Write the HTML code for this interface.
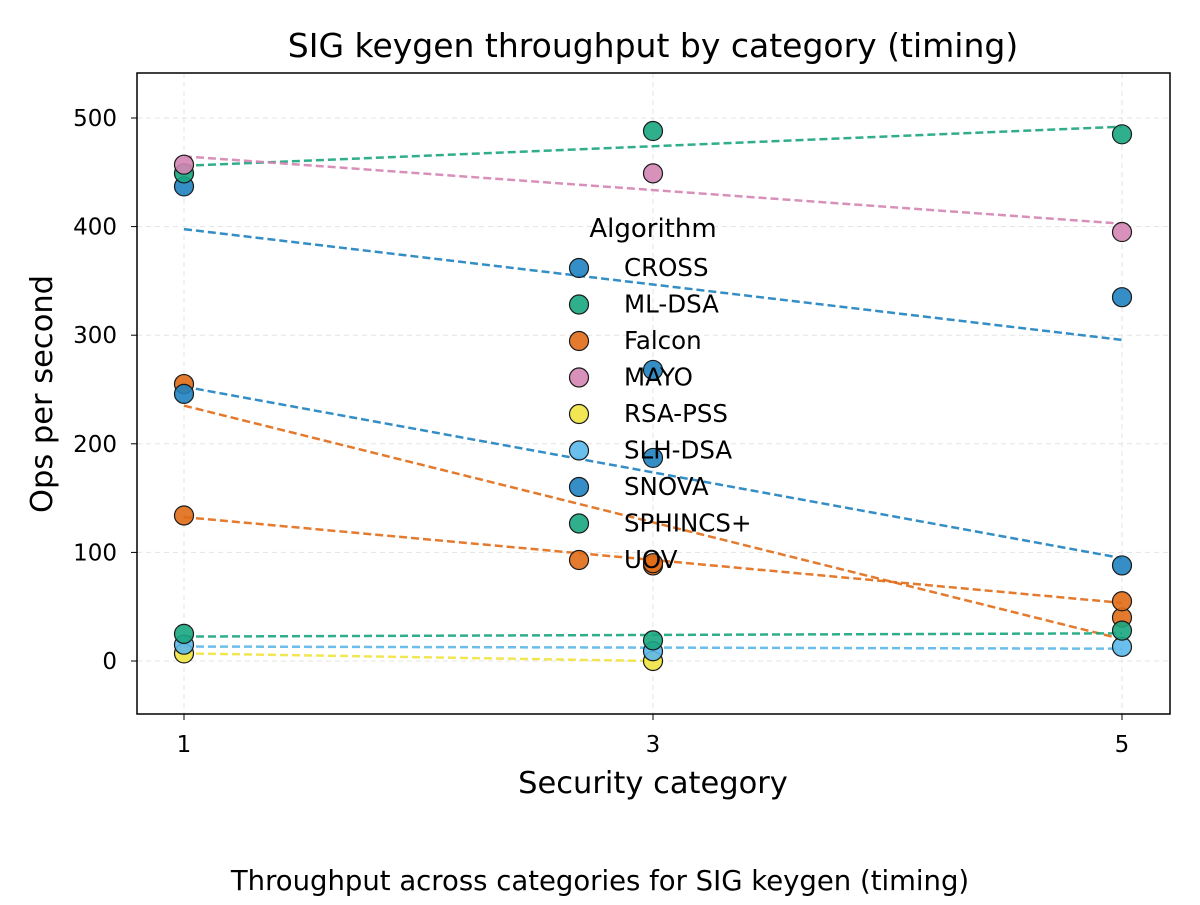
<!DOCTYPE html>
<html><head><meta charset="utf-8"><style>
body{margin:0;background:#fff;font-family:"Liberation Sans","DejaVu Sans",sans-serif;}
svg text{font-family:"DejaVu Sans","Liberation Sans",sans-serif;}
</style></head><body>
<svg id="chart" width="1200" height="900" xmlns="http://www.w3.org/2000/svg">
<rect width="1200" height="900" fill="#fff"/>
<g id="grid"></g><g id="lines"></g><g id="pts"></g><g id="axes"></g><g id="legend"></g>
</svg>
<script>
const categories=[1,3,5];
const names=["CROSS","ML-DSA","Falcon","MAYO","RSA-PSS","SLH-DSA","SNOVA","SPHINCS+","UOV"];
const colors=["#1f82c0","#1aa67f","#e06c17","#d485b3","#f0e442","#5bb8ea","#1f82c0","#1aa67f","#e06c17"];
const valCROSS=[437,268,335];
const valMLDSA=[449,488,485];
const valFalcon=[255,88,40];
const valMAYO=[457,449,395];
const valRSA=[7,0,null];
const valSLH=[15,9,13];
const valSNOVA=[246,187,88];
const valSPHINCS=[25,19,28];
const valUOV=[134,90,55];
const series=[valCROSS,valMLDSA,valFalcon,valMAYO,valRSA,valSLH,valSNOVA,valSPHINCS,valUOV];
const yTicks=[0,100,200,300,400,500];
const xTicks=[1,3,5];
const NS="http://www.w3.org/2000/svg";
const X=v=>184+(v-1)*(1122-184)/4;
const Y=v=>661-v*(661-118)/500;
function mk(tag,attrs,parent,txt){const e=document.createElementNS(NS,tag);for(const k in attrs)e.setAttribute(k,attrs[k]);if(txt!==undefined)e.textContent=txt;parent.appendChild(e);return e;}
const grid=document.getElementById('grid'),lines=document.getElementById('lines'),pts=document.getElementById('pts'),axes=document.getElementById('axes'),leg=document.getElementById('legend');
yTicks.forEach(t=>{const y=Y(t);
const g=mk('line',{x1:137,x2:1170,y1:y,y2:y,stroke:'#e3e3e3','stroke-dasharray':'5,4','stroke-width':1},grid);

mk('line',{x1:131,x2:137,y1:y,y2:y,stroke:'#000'},axes);
const l=mk('text',{x:117,y:y+8,'text-anchor':'end','font-size':23},axes,t);
});
xTicks.forEach(t=>{const x=X(t);
const g=mk('line',{x1:x,x2:x,y1:73,y2:714,stroke:'#e3e3e3','stroke-dasharray':'5,4','stroke-width':1},grid);

mk('line',{x1:x,x2:x,y1:714,y2:720,stroke:'#000'},axes);
const l=mk('text',{x:x,y:752,'text-anchor':'middle','font-size':23},axes,t);
});
series.forEach((vals,i)=>{
 const xs=[],ys=[];vals.forEach((v,j)=>{if(v!==null){xs.push(categories[j]);ys.push(v);}});
 const n=xs.length,mx=xs.reduce((a,b)=>a+b)/n,my=ys.reduce((a,b)=>a+b)/n;
 let sxy=0,sxx=0;xs.forEach((x,k)=>{sxy+=(x-mx)*(ys[k]-my);sxx+=(x-mx)*(x-mx);});
 const b=sxy/sxx,a=my-b*mx,x0=xs[0],x1=xs[n-1];
 const ln=mk('line',{x1:X(x0),y1:Y(a+b*x0),x2:X(x1),y2:Y(a+b*x1),stroke:colors[i],'stroke-width':2.5,'stroke-dasharray':'8,4',opacity:0.9},lines);
 
});
series.forEach((vals,i)=>{vals.forEach((v,j)=>{if(v===null)return;
 const c=mk('circle',{cx:X(categories[j]),cy:Y(v),r:9.5,fill:colors[i],'fill-opacity':0.9,stroke:'#1a1a1a','stroke-width':1.2},pts);
 });});
const fr=mk('rect',{x:137,y:73,width:1033,height:641,fill:'none',stroke:'#000','stroke-width':1.5},axes);

const lt=mk('text',{x:653,y:237,'text-anchor':'middle','font-size':26},leg,'Algorithm');

names.forEach((nm,i)=>{const y=268+i*36.5;
 const m=mk('circle',{cx:579,cy:y,r:9.5,fill:colors[i],'fill-opacity':0.9,stroke:'#1a1a1a','stroke-width':1.2},leg);
 
 const t=mk('text',{x:624,y:y+8,'font-size':24.5},leg,nm);
 });
const svg=document.getElementById('chart');
const ti=mk('text',{x:653,y:57,'text-anchor':'middle','font-size':33},svg,'SIG keygen throughput by category (timing)');

const xt=mk('text',{x:653,y:793,'text-anchor':'middle','font-size':30.5},svg,'Security category');

const yt=mk('text',{x:52,y:394,'text-anchor':'middle','font-size':30.5,transform:'rotate(-90 52 394)'},svg,'Ops per second');

const cap=mk('text',{x:600,y:890,'text-anchor':'middle','font-size':27.5},svg,'Throughput across categories for SIG keygen (timing)');

</script>
</body></html>
